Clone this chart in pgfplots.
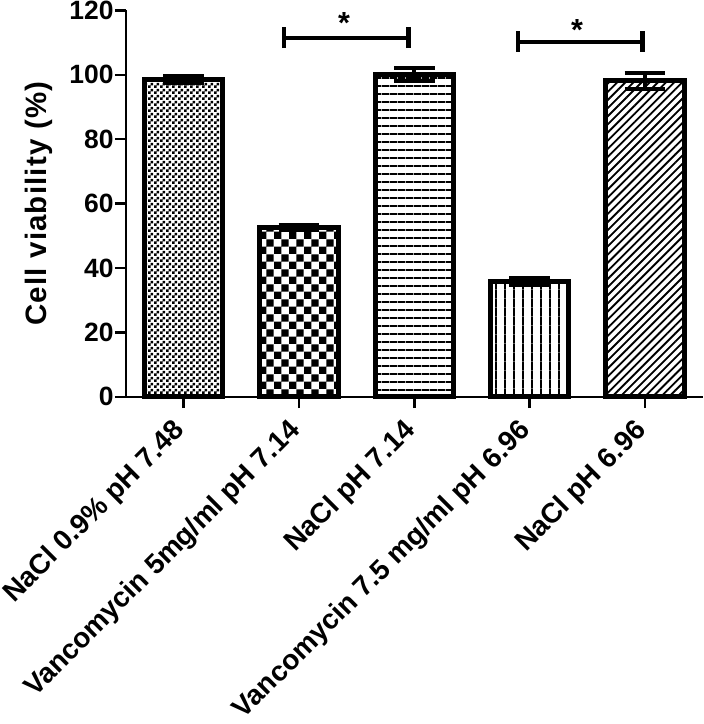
\documentclass[border=0pt]{standalone}
\usepackage{fontspec}
\setmainfont{Liberation Sans}
\usepackage{pgfplots}
\pgfplotsset{compat=1.18}
\usetikzlibrary{patterns}

\pgfdeclarepatternformonly{finecheck}{\pgfpointorigin}{\pgfpoint{5.4pt}{5.4pt}}{\pgfpoint{5.4pt}{5.4pt}}{%
  \pgfpathrectangle{\pgfpointorigin}{\pgfpoint{2.7pt}{2.7pt}}%
  \pgfpathrectangle{\pgfpoint{2.7pt}{2.7pt}}{\pgfpoint{2.7pt}{2.7pt}}%
  \pgfusepath{fill}}
\pgfdeclarepatternformonly{bigcheck}{\pgfpointorigin}{\pgfpoint{15pt}{15pt}}{\pgfpoint{15pt}{15pt}}{%
  \pgfpathrectangle{\pgfpointorigin}{\pgfpoint{7.5pt}{7.5pt}}%
  \pgfpathrectangle{\pgfpoint{7.5pt}{7.5pt}}{\pgfpoint{7.5pt}{7.5pt}}%
  \pgfusepath{fill}}
\pgfdeclarepatternformonly{hl}{\pgfpointorigin}{\pgfpoint{8pt}{8pt}}{\pgfpoint{8pt}{8pt}}{%
  \pgfpathrectangle{\pgfpointorigin}{\pgfpoint{8pt}{2pt}}%
  \pgfusepath{fill}}
\pgfdeclarepatternformonly{vl}{\pgfpointorigin}{\pgfpoint{8.7pt}{8.7pt}}{\pgfpoint{8.7pt}{8.7pt}}{%
  \pgfpathrectangle{\pgfpointorigin}{\pgfpoint{1.8pt}{8.7pt}}%
  \pgfusepath{fill}}
\pgfdeclarepatternformonly{nel}{\pgfqpoint{-1pt}{-1pt}}{\pgfqpoint{9pt}{9pt}}{\pgfqpoint{8pt}{8pt}}{%
  \pgfsetlinewidth{1.8pt}%
  \pgfpathmoveto{\pgfqpoint{0pt}{0pt}}%
  \pgfpathlineto{\pgfqpoint{8.1pt}{8.1pt}}%
  \pgfusepath{stroke}}

\begin{document}
\begin{tikzpicture}
\begin{axis}[
  scale only axis,
  width=567pt, height=380pt,
  xmin=-0.5, xmax=4.5,
  ymin=0, ymax=120,
  ytick={0,20,...,120},
  xtick={0,1,2,3,4},
  xticklabels={NaCl 0.9\% pH 7.48, Vancomycin 5mg/ml pH 7.14, NaCl pH 7.14, Vancomycin 7.5 mg/ml pH 6.96, NaCl pH 6.96},
  axis lines=left,
  axis line style={line width=2.5pt, -},
  tick style={line width=2.5pt, black},
  tick align=outside,
  major tick length=11pt,
  /pgf/number format/assume math mode=true,
  yticklabel style={font=\fontsize{26}{30}\selectfont\bfseries, inner sep=1pt},
  xticklabel style={font=\fontsize{27.5}{32}\selectfont\bfseries, yshift=-9pt, xshift=-12pt, rotate=45, anchor=north east, inner sep=0pt},
  ylabel={Cell viability (\%)},
  ylabel style={font=\fontsize{29}{33}\selectfont\bfseries\addfontfeatures{LetterSpace=4}, yshift=12pt},
  ybar,
  bar width=0.68,
  clip=false,
  error bars/y dir=both,
  error bars/y explicit,
  error bars/error bar style={line width=4pt, black},
  error bars/error mark options={line width=4pt, mark size=20pt, rotate=90, black},
]
\addplot[bar shift=0pt, draw=black, line width=5pt, pattern=finecheck, pattern color=black]
  coordinates {(0,98.5) +- (0,1.0)};
\addplot[bar shift=0pt, draw=black, line width=5pt, pattern=bigcheck, pattern color=black]
  coordinates {(1,52.5) +- (0,0.7)};
\addplot[bar shift=0pt, draw=black, line width=5pt, pattern=hl, pattern color=black]
  coordinates {(2,100.2) +- (0,2.0)};
\addplot[bar shift=0pt, draw=black, line width=5pt, pattern=vl, pattern color=black]
  coordinates {(3,35.8) +- (0,1.0)};
\addplot[bar shift=0pt, draw=black, line width=5pt, pattern=nel, pattern color=black]
  coordinates {(4,98.2) +- (0,2.5)};
% significance brackets
\addplot[sharp plot, line width=4pt, black, no marks, error bars/y dir=none] coordinates {(0.87,111.5) (1.95,111.5)};
\addplot[sharp plot, line width=4.5pt, black, no marks, error bars/y dir=none] coordinates {(0.87,108.3) (0.87,114.7)};
\addplot[sharp plot, line width=4.5pt, black, no marks, error bars/y dir=none] coordinates {(1.95,108.3) (1.95,114.7)};
\addplot[sharp plot, line width=4pt, black, no marks, error bars/y dir=none] coordinates {(2.9,110.3) (3.98,110.3)};
\addplot[sharp plot, line width=4.5pt, black, no marks, error bars/y dir=none] coordinates {(2.9,107.1) (2.9,113.5)};
\addplot[sharp plot, line width=4.5pt, black, no marks, error bars/y dir=none] coordinates {(3.98,107.1) (3.98,113.5)};
\node[font=\fontsize{30}{34}\selectfont\bfseries] at (axis cs:1.39,116) {*};
\node[font=\fontsize{30}{34}\selectfont\bfseries] at (axis cs:3.41,114) {*};
\end{axis}
\end{tikzpicture}
\end{document}
